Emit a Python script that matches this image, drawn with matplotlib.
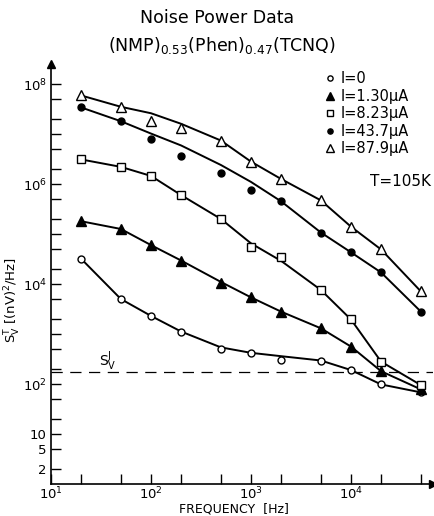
import matplotlib
matplotlib.use('Agg')
import matplotlib.pyplot as plt
from matplotlib.lines import Line2D
import numpy as np

plt.rcParams['font.family'] = 'DejaVu Sans'
plt.rcParams['mathtext.default'] = 'regular'

# frequencies (Hz)
freq = [20, 50, 100, 200, 500, 1000, 2000, 5000, 1e4, 2e4, 5e4]

# measured points, S_V^T in (nV)^2/Hz
i_0 = [3.2e4, 5.0e3, 2.3e3, 1.12e3, 5.1e2, 4.2e2, 3.0e2, 2.95e2, 1.9e2, 98, 68]
i_130 = [1.8e5, 1.26e5, 5.9e4, 2.95e4, 1.07e4, 5.4e3, 2.8e3, 1.3e3, 5.6e2, 1.8e2, 78]
i_823 = [3.1e6, 2.2e6, 1.45e6, 6.0e5, 2.0e5, 5.6e4, 3.4e4, 7.6e3, 1.95e3, 2.8e2, 95]
i_437 = [3.4e7, 1.8e7, 7.8e6, 3.7e6, 1.66e6, 7.6e5, 4.5e5, 1.07e5, 4.3e4, 1.7e4, 2.8e3]
i_879 = [5.9e7, 3.4e7, 1.8e7, 1.3e7, 7.4e6, 2.8e6, 1.26e6, 4.7e5, 1.4e5, 4.9e4, 7.1e3]

# hand drawn guide curves (at the same frequencies)
fit_0 = [3.2e4, 5.0e3, 2.3e3, 1.12e3, 5.4e2, 4.2e2, 3.6e2, 2.95e2, 1.9e2, 98, 68]
fit_130 = [1.8e5, 1.26e5, 6.0e4, 2.95e4, 1.1e4, 5.4e3, 2.8e3, 1.3e3, 5.6e2, 1.8e2, 78]
fit_823 = [3.1e6, 2.2e6, 1.45e6, 6.0e5, 2.0e5, 6.5e4, 2.9e4, 7.6e3, 1.95e3, 2.8e2, 95]
fit_437 = [3.4e7, 1.8e7, 1.02e7, 5.9e6, 2.4e6, 1.1e6, 4.5e5, 1.07e5, 4.3e4, 1.7e4, 2.8e3]
fit_879 = [5.9e7, 3.5e7, 2.6e7, 1.6e7, 7.4e6, 2.8e6, 1.26e6, 4.7e5, 1.4e5, 4.9e4, 7.1e3]

sv_johnson = 1.7e2

labels = ['I=0', 'I=1.30μA', 'I=8.23μA', 'I=43.7μA', 'I=87.9μA']

y_major = [2, 5, 10, 1e2, 1e4, 1e6, 1e8]
y_major_labels = ['2', '5', '10', '10$^2$', '10$^4$', '10$^6$', '10$^8$']
y_minor = [20, 50, 200, 500, 1e3, 2e3, 5e3, 2e4, 5e4, 1e5, 2e5, 5e5,
           2e6, 5e6, 1e7, 2e7, 5e7]
x_major = [10, 100, 1e3, 1e4]
x_major_labels = ['10$^1$', '10$^2$', '10$^3$', '10$^4$']
x_minor = [20, 50, 200, 500, 2e3, 5e3, 2e4, 5e4]

fig = plt.figure(figsize=(4.34, 5.16), dpi=100)
ax = fig.add_axes([51/434, 1-484/516, 382/434, 420/516])
ax.set_xscale('log')
ax.set_yscale('log')
ax.set_xlim(10, 10**4.82)
ax.set_ylim(1, 10**8.4)

lw = 1.4
series = [
  (i_0, fit_0, dict(marker='o', mfc='white', ms=5)),
  (i_130, fit_130, dict(marker='^', mfc='black', ms=7)),
  (i_823, fit_823, dict(marker='s', mfc='white', ms=5.5)),
  (i_437, fit_437, dict(marker='o', mfc='black', ms=5)),
  (i_879, fit_879, dict(marker='^', mfc='white', ms=7)),
]
for pts, fit, st in series:
  ax.plot(freq, fit, color='black', lw=lw, zorder=2)
  ax.plot(freq, pts, ls='none', mec='black', mew=1.0, zorder=3, **st)

ax.axhline(sv_johnson, color='black', lw=0.9, ls=(0, (9, 6)), zorder=1)
ax.text(30, 2.3e2, 'S$_V^J$', fontsize=10)

ax.spines['top'].set_visible(False)
ax.spines['right'].set_visible(False)
ax.spines['left'].set_linewidth(1.2)
ax.spines['bottom'].set_linewidth(1.2)
ax.plot(1, 0, '>k', ms=6, transform=ax.transAxes, clip_on=False)
ax.plot(0, 1, '^k', ms=6, transform=ax.transAxes, clip_on=False)

ax.set_yticks(y_major)
ax.set_yticklabels(y_major_labels)
ax.set_yticks(y_minor, minor=True)
ax.set_yticklabels([], minor=True)
ax.set_xticks(x_major)
ax.set_xticklabels(x_major_labels)
ax.set_xticks(x_minor, minor=True)
ax.set_xticklabels([], minor=True)
ax.tick_params(which='both', direction='in', length=7, width=1.0, labelsize=9.5)
ax.tick_params(axis='y', pad=3)
ax.tick_params(axis='x', pad=1)

handles = [Line2D([], [], ls='none', mec='black', mew=1.0, **st) for _, _, st in series]
for h in handles:
  h.set_markersize(h.get_markersize() * 0.75)
fig.legend(handles, labels, loc='upper left', bbox_to_anchor=(326/434, 1-71/516),
           frameon=False, fontsize=10.5, handlelength=0.6, handletextpad=0.4,
           labelspacing=0.18, borderpad=0, borderaxespad=0)

fig.text(400/434, 1-181/516, 'T=105K', fontsize=11, ha='center', va='center')
fig.text(217/434, 1-18/516, 'Noise Power Data', fontsize=12.5, ha='center', va='center')
fig.text(222/434, 1-46/516, '(NMP)$_{0.53}$(Phen)$_{0.47}$(TCNQ)', fontsize=12.5,
         ha='center', va='center')
fig.text(234/434, 1-509/516, 'FREQUENCY  [Hz]', fontsize=9, ha='center', va='center')
fig.text(13/434, 1-300/516, 'S$_V^T$ [(nV)$^2$/Hz]', fontsize=9.5, rotation=90,
         ha='center', va='center')

fig.savefig('out.png', dpi=100)
